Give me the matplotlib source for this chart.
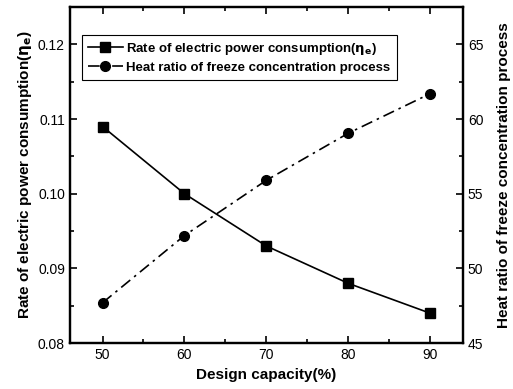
import matplotlib
matplotlib.use("Agg")
import matplotlib.pyplot as plt
from matplotlib.ticker import MultipleLocator

plt.rcParams['font.family'] = ['Liberation Sans', 'DejaVu Sans']

capacity = [50, 60, 70, 80, 90]
power_rate = [0.109, 0.100, 0.093, 0.088, 0.084]
heat_ratio = [47.7, 52.2, 55.9, 59.05, 61.7]

fig = plt.figure(figsize=(5.13, 3.89), dpi=100)
ax = fig.add_axes([0.136, 0.118, 0.7665, 0.864])
ax2 = ax.twinx()

l1, = ax.plot(capacity, power_rate, '-', color='black', marker='s', markersize=6.5, lw=1.2,
              label=r'Rate of electric power consumption($\mathbf{\eta_e}$)')
l2, = ax2.plot(capacity, heat_ratio, linestyle=(0, (7, 3, 1.5, 3)), color='black', marker='o',
               markersize=7, lw=1.2, label='Heat ratio of freeze concentration process')

ax.set_xlim(46, 94)
ax.set_ylim(0.08, 0.125)
ax2.set_ylim(45, 67.5)

ax.xaxis.set_major_locator(MultipleLocator(10))
ax.xaxis.set_minor_locator(MultipleLocator(5))
ax.yaxis.set_major_locator(MultipleLocator(0.01))
ax.yaxis.set_minor_locator(MultipleLocator(0.005))
ax2.yaxis.set_major_locator(MultipleLocator(5))
ax2.yaxis.set_minor_locator(MultipleLocator(2.5))

ax.tick_params(axis='x', which='both', direction='in', top=True, labelsize=10)
ax.tick_params(axis='y', which='both', direction='in', right=False, labelsize=10)
ax.tick_params(which='major', length=5, width=1.2)
ax.tick_params(which='minor', length=3, width=1.2)
ax2.tick_params(axis='y', which='both', direction='in', labelsize=10)
ax2.tick_params(which='major', length=5, width=1.2)
ax2.tick_params(which='minor', length=3, width=1.2)
ax.set_yticks([0.08, 0.09, 0.10, 0.11, 0.12])
ax.set_yticklabels(['0.08', '0.09', '0.10', '0.11', '0.12'])

for a in (ax, ax2):
    for s in a.spines.values():
        s.set_linewidth(1.6)

ax.set_xlabel('Design capacity(%)', fontsize=11, fontweight='bold', labelpad=4)
ax.set_ylabel(r'Rate of electric power consumption($\mathbf{\eta_e}$)', fontsize=11,
              fontweight='bold', labelpad=3)
ax2.set_ylabel('Heat ratio of freeze concentration process', fontsize=11,
               fontweight='bold', labelpad=10)

leg = ax.legend(handles=[l1, l2], loc='upper left', bbox_to_anchor=(0.015, 0.937),
                frameon=True, fancybox=False, edgecolor='black', framealpha=1,
                prop={'weight': 'bold', 'size': 9.5}, handlelength=2.6,
                borderpad=0.45, labelspacing=0.35, handletextpad=0.3)
leg.get_frame().set_linewidth(0.8)

fig.savefig('out.png', dpi=100)
